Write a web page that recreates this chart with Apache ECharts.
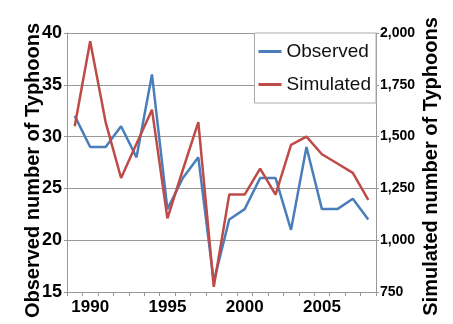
<!DOCTYPE html>
<html>
<head>
<meta charset="utf-8">
<script src="https://cdn.jsdelivr.net/npm/echarts@6/dist/echarts.min.js"></script>
<style>
html,body{margin:0;padding:0;background:#fff;}
#chart{width:453px;height:324px;}
</style>
</head>
<body>
<div id="chart"></div>
<script>
var years = ['1989','1990','1991','1992','1993','1994','1995','1996','1997','1998','1999','2000','2001','2002','2003','2004','2005','2006','2007','2008'];
var observed = [32,29,29,31,28,36,23,26,28,16,22,23,26,26,21,29,23,23,24,22];
var simulated = [1550,1960,1570,1300,1465,1630,1105,1340,1570,775,1220,1220,1345,1220,1460,1500,1415,1370,1325,1195];
var leftTicks = [15,20,25,30,35,40];
var rightTicks = [750,1000,1250,1500,1750,2000];

var FN = '"Liberation Sans", Arial, sans-serif';
var chart = echarts.init(document.getElementById('chart'), null, {renderer:'canvas'});
chart.setOption({
  backgroundColor:'#fff',
  animation:false,
  grid:{left:67,right:77,top:33,bottom:32},
  legend:{
    data:['Observed','Simulated'],
    orient:'vertical',
    right:77, top:33,
    backgroundColor:'#fff',
    borderColor:'#aaa', borderWidth:1,
    padding:[9,5,9,4],
    itemGap:14,
    itemWidth:23, itemHeight:3,
    icon:'rect',
    textStyle:{fontFamily:FN,fontSize:19,color:'#111'}
  },
  xAxis:{
    type:'category',
    data:years,
    boundaryGap:true,
    axisLine:{lineStyle:{color:'#999',width:1}},
    axisTick:{show:true,interval:0,length:4,lineStyle:{color:'#999'}},
    axisLabel:{
      interval:function(i,v){return (+v)%5===0;},
      fontFamily:FN,fontSize:17,fontWeight:'bold',color:'#000',margin:7
    },
    splitLine:{show:false}
  },
  yAxis:[{
    type:'value',
    min:leftTicks[0], max:leftTicks[leftTicks.length-1], interval:5,
    name:'Observed number of Typhoons',
    nameLocation:'middle', nameRotate:90, nameGap:24, nameMoveOverlap:false,
    nameTextStyle:{fontFamily:FN,fontSize:20,fontWeight:'bold',color:'#000',padding:[0,16,0,0]},
    axisLine:{show:true,lineStyle:{color:'#999',width:1}},
    axisTick:{show:true,length:3,lineStyle:{color:'#999'}},
    axisLabel:{fontFamily:FN,fontSize:18,fontWeight:'bold',color:'#000',margin:5},
    splitLine:{show:true,lineStyle:{color:'#999',width:1}}
  },{
    type:'value',
    position:'right',
    min:rightTicks[0], max:rightTicks[rightTicks.length-1], interval:250,
    name:'Simulated number of Typhoons',
    nameLocation:'middle', nameRotate:90, nameGap:45, nameMoveOverlap:false,
    nameTextStyle:{fontFamily:FN,fontSize:20,fontWeight:'bold',color:'#000',padding:[0,8,0,0]},
    axisLine:{show:true,lineStyle:{color:'#999',width:1}},
    axisTick:{show:true,length:3,lineStyle:{color:'#999'}},
    axisLabel:{fontFamily:FN,fontSize:14,fontWeight:'bold',color:'#000',margin:4,
      formatter:function(v){return v.toLocaleString('en-US');}},
    splitLine:{show:false}
  }],
  series:[{
    name:'Observed',type:'line',yAxisIndex:0,data:observed,
    symbol:'none',color:'#4a7ebb',lineStyle:{width:2.5,color:'#4a7ebb'}
  },{
    name:'Simulated',type:'line',yAxisIndex:1,data:simulated,
    symbol:'none',color:'#be4b48',lineStyle:{width:2.5,color:'#be4b48'}
  }]
});
</script>
</body>
</html>
